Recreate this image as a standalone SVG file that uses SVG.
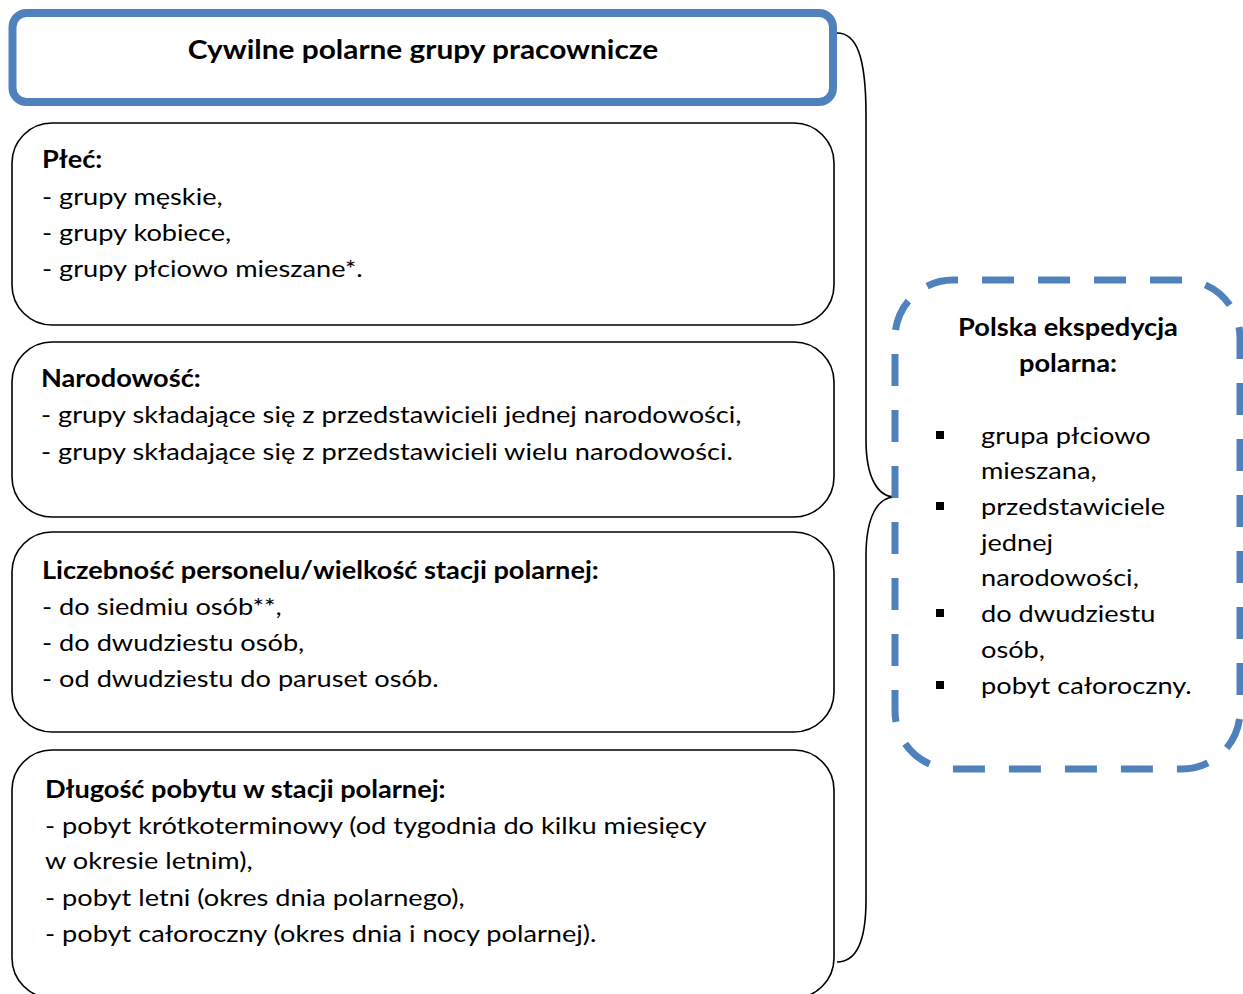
<svg xmlns="http://www.w3.org/2000/svg" width="1243" height="994" viewBox="0 0 1243 994">
<style>
.t{font-family:Lato,"Liberation Sans",sans-serif;font-size:24px;fill:#000}
.b{font-weight:bold}
.ttl{font-size:26.3px}
.box{fill:#fff;stroke:#000;stroke-width:1.6}
.conn{fill:none;stroke:#000;stroke-width:1.6}
</style>
<rect width="1243" height="994" fill="#fff"/>
<g id="connectors">
<path class="conn" d="M837 33 C856 33 866 55 866 115 L866 440 C866 478 878 497 895 497 C878 497 866 516 866 556 L866 900 C866 942 856 962 837 962"/>
</g>
<g id="title">
<rect x="12.5" y="13" width="820.5" height="89" rx="14" fill="#fff" stroke="#4f81bd" stroke-width="8"/>
<g transform="translate(423 0) scale(1.135 1)">
<text class="t b ttl" x="0" y="59" text-anchor="middle">Cywilne polarne grupy pracownicze</text>
</g>
</g>
<g id="plec">
<rect class="box" x="12" y="123" width="822" height="202" rx="40"/>
<g transform="translate(42 0) scale(1.133 1)">
<text class="t b" x="0" y="168">Płeć:</text>
<text class="t" x="0" y="205">- grupy męskie,</text>
<text class="t" x="0" y="241">- grupy kobiece,</text>
<text class="t" x="0" y="277">- grupy płciowo mieszane*.</text>
</g>
</g>
<g id="narodowosc">
<rect class="box" x="12" y="342" width="822" height="175" rx="40"/>
<g transform="translate(41 0) scale(1.133 1)">
<text class="t b" x="0" y="387">Narodowość:</text>
<text class="t" x="0" y="423">- grupy składające się z przedstawicieli jednej narodowości,</text>
<text class="t" x="0" y="460">- grupy składające się z przedstawicieli wielu narodowości.</text>
</g>
</g>
<g id="liczebnosc">
<rect class="box" x="12" y="532" width="822" height="200" rx="40"/>
<g transform="translate(42 0) scale(1.133 1)">
<text class="t b" x="0" y="579">Liczebność personelu/wielkość stacji polarnej:</text>
<text class="t" x="0" y="615">- do siedmiu osób**,</text>
<text class="t" x="0" y="651">- do dwudziestu osób,</text>
<text class="t" x="0" y="687">- od dwudziestu do paruset osób.</text>
</g>
</g>
<g id="dlugosc">
<rect class="box" x="12" y="750" width="822" height="248" rx="40"/>
<g transform="translate(45 0) scale(1.133 1)">
<text class="t b" x="0" y="798">Długość pobytu w stacji polarnej:</text>
<text class="t" x="0" y="834">- pobyt krótkoterminowy (od tygodnia do kilku miesięcy</text>
<text class="t" x="0" y="869">w okresie letnim),</text>
<text class="t" x="0" y="906">- pobyt letni (okres dnia polarnego),</text>
<text class="t" x="0" y="942">- pobyt całoroczny (okres dnia i nocy polarnej).</text>
</g>
</g>
<g id="polska">
<rect x="895" y="280" width="345" height="489" rx="58" fill="none" stroke="#4f81bd" stroke-width="7" stroke-dasharray="32 24" stroke-dashoffset="27"/>
<g transform="translate(1068 0) scale(1.135 1)">
<text class="t b" x="0" y="336" text-anchor="middle">Polska ekspedycja</text>
<text class="t b" x="0" y="372" text-anchor="middle">polarna:</text>
</g>
<rect x="936" y="431" width="8" height="8"/>
<rect x="936" y="502" width="8" height="8"/>
<rect x="936" y="609" width="8" height="8"/>
<rect x="936" y="681" width="8" height="8"/>
<g transform="translate(981 0) scale(1.133 1)">
<text class="t" x="0" y="444">grupa płciowo</text>
<text class="t" x="0" y="479">mieszana,</text>
<text class="t" x="0" y="515">przedstawiciele</text>
<text class="t" x="0" y="551">jednej</text>
<text class="t" x="0" y="586">narodowości,</text>
<text class="t" x="0" y="622">do dwudziestu</text>
<text class="t" x="0" y="658">osób,</text>
<text class="t" x="0" y="694">pobyt całoroczny.</text>
</g>
</g>
</svg>
